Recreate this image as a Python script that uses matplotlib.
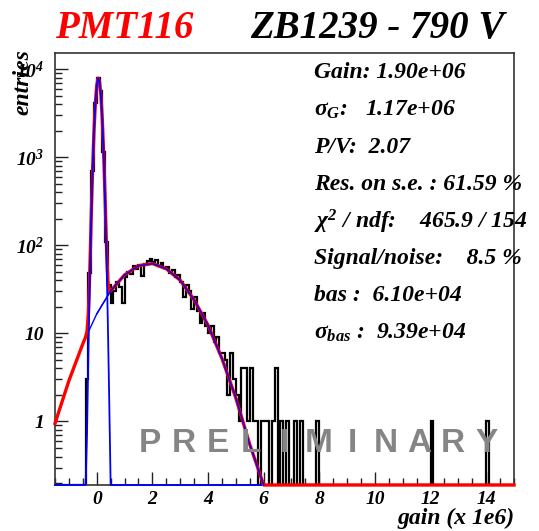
import numpy as np
import matplotlib
matplotlib.use("Agg")
import matplotlib.pyplot as plt
from matplotlib.ticker import FixedLocator, FixedFormatter, LogLocator, MultipleLocator, NullFormatter

plt.rcParams['font.family'] = 'Liberation Serif'
plt.rcParams['font.weight'] = 'bold'
plt.rcParams['font.style'] = 'italic'
plt.rcParams['mathtext.fontset'] = 'custom'
plt.rcParams['mathtext.rm'] = 'Liberation Serif:bold:italic'
plt.rcParams['mathtext.it'] = 'Liberation Serif:bold:italic'
plt.rcParams['mathtext.bf'] = 'Liberation Serif:bold:italic'
plt.rcParams['mathtext.sf'] = 'Liberation Serif'

#### data
x_lo, x_hi = -1.5, 15.0
y_lo, y_hi = 0.19, 1.52e4
bin_w = 0.1

## histogram entries, bins of 0.1 starting at -1.5
counts = [
    0, 0, 0, 0, 0, 0, 0, 0, 0, 0,
    0, 3, 48, 690, 4100, 7900, 5600, 1150, 110, 35,
    22, 30, 38, 34, 22, 44, 50, 47, 58, 54,
    60, 45, 62, 66, 70, 64, 68, 58, 63, 55,
    57, 49, 52, 44, 46, 38, 26, 35, 30, 19,
    26, 18, 13, 17, 12, 10, 12, 8, 9, 6,
    6, 5, 2, 6, 3, 2, 1, 4, 4, 1,
    4, 1, 1, 0, 1, 1, 1, 0, 1, 4,
    0, 1, 0, 1, 0, 0, 1, 0, 1, 0,
    0, 0, 0, 0, 1, 0, 0, 0, 0, 0,
    0, 0, 0, 0, 0, 0, 0, 0, 0, 0,
    0, 0, 0, 0, 0, 0, 0, 0, 0, 0,
    0, 0, 0, 0, 0, 0, 0, 0, 0, 0,
    0, 0, 0, 0, 0, 1, 0, 0, 0, 0,
    0, 0, 0, 0, 0, 0, 0, 0, 0, 0,
    0, 0, 0, 0, 0, 1, 0, 0, 0, 0,
    0, 0, 0, 0, 0,
]

## pedestal component (blue)
ped_x = [-1.5, -0.45, -0.40, -0.35, -0.30, -0.25, -0.20, -0.15, -0.10, -0.05, 0.00,
         0.05, 0.10, 0.15, 0.20, 0.25, 0.30, 0.35, 0.40, 0.45, 0.50, 0.55, 5.9]
ped_y = [0, 0.004, 0.07, 0.7, 6, 39, 186, 690, 1910, 4040, 6480,
         7860, 7230, 5040, 2670, 1070, 325, 75, 13, 1.7, 0.18, 0.013, 0]

## single photo-electron component (blue)
spe_x = [-1.5, -1.0, -0.5, 0.0, 0.5, 1.0, 1.5, 2.0, 2.5, 3.0, 3.5, 4.0, 4.5, 5.0, 5.5, 6.0]
spe_y = [0.91, 2.9, 7.6, 16.6, 30.3, 46, 58.5, 62, 54, 40, 24, 12.4, 5.2, 1.85, 0.55, 0.13]

## total fit (red)
tot_x = [-1.5, -1.0, -0.5, -0.4, -0.35, -0.3, -0.25, -0.2, -0.15, -0.1, -0.05, 0.0,
         0.05, 0.1, 0.15, 0.2, 0.25, 0.3, 0.35, 0.4, 0.45, 0.5, 1.0, 1.5, 2.0,
         2.5, 3.0, 3.5, 4.0, 4.5, 5.0, 5.5, 6.0, 6.5, 15.0]
tot_y = [0.95, 2.9, 7.6, 9.1, 10.5, 16.6, 50, 198, 700, 1920, 4060, 6500,
         7880, 7250, 5060, 2690, 1090, 349, 100, 39.5, 29.6, 30.3, 46, 58.5, 62,
         54, 40, 24, 12.4, 5.2, 1.85, 0.55, 0.13, 0.03, 0]

stats = [
    "Gain: 1.90e+06",
    r"$\mathsf{\sigma}_{G}$:   1.17e+06",
    "P/V:  2.07",
    "Res. on s.e. : 61.59 %",
    r"$\mathsf{\chi}^{2}$ / ndf:    465.9 / 154",
    "Signal/noise:    8.5 %",
    "bas :  6.10e+04",
    r"$\mathsf{\sigma}_{bas}$ :  9.39e+04",
]

xtick_vals = [0, 2, 4, 6, 8, 10, 12, 14]
ytick_vals = [1, 10, 100, 1000, 10000]
ytick_labels = ["1", "10", "$10^{2}$", "$10^{3}$", "$10^{4}$"]

################

W, H = 539, 531
fig = plt.figure(figsize=(W / 100, H / 100), dpi=100)
ax = fig.add_axes([55 / W, 1 - 485 / H, (514 - 55) / W, (485 - 53) / H])
ax.set_yscale('log')
ax.set_xlim(x_lo, x_hi)
ax.set_ylim(y_lo, y_hi)

edges = x_lo + bin_w * np.arange(len(counts) + 1)
ax.stairs(np.maximum(np.array(counts, float), y_lo), edges, color='black', lw=1.6,
          baseline=None, zorder=2)

ax.plot(spe_x, np.maximum(spe_y, y_lo), color='blue', lw=1.0, zorder=3, clip_on=False)
ax.plot(tot_x, np.maximum(tot_y, y_lo), color='red', lw=2.4, zorder=3.5, clip_on=False)
ax.plot(ped_x, np.maximum(ped_y, y_lo), color='blue', lw=1.3, zorder=4, clip_on=False)
# thin blue SPE line shows on top of the red one past the pedestal
ax.plot(spe_x[3:], np.maximum(spe_y[3:], y_lo), color='blue', lw=1.0, zorder=4, clip_on=False)

# ROOT-like frame and ticks
for s in ax.spines.values():
    s.set_color('#333333')
    s.set_linewidth(1.2)
ax.yaxis.set_major_locator(FixedLocator(ytick_vals))
ax.yaxis.set_major_formatter(FixedFormatter(ytick_labels))
ax.yaxis.set_minor_locator(LogLocator(base=10, subs=np.arange(2, 10)))
ax.yaxis.set_minor_formatter(NullFormatter())
ax.xaxis.set_major_locator(FixedLocator(xtick_vals))
ax.xaxis.set_major_formatter(FixedFormatter([str(v) for v in xtick_vals]))
ax.xaxis.set_minor_locator(MultipleLocator(0.5))
ax.tick_params(which='both', direction='in', top=False, right=False, color='#222222', width=1.0)
ax.tick_params(which='major', length=9.5)
ax.tick_params(which='minor', length=5)
ax.tick_params(axis='y', which='major', pad=8, labelsize=14)
ax.tick_params(axis='x', which='major', pad=4, labelsize=14)

# titles
fig.text(55 / W, 1 - 38 / H, "PMT116", color='red', fontsize=28, va='baseline', ha='left')
fig.text(250 / W, 1 - 38 / H, "ZB1239 - 790 V", color='black', fontsize=28, va='baseline', ha='left')

fig.text(23 / W, 1 - 49 / H, "entries", rotation=90, fontsize=17, ha='center', va='top')
fig.text(515 / W, 1 - 524 / H, "gain (x 1e6)", fontsize=17, ha='right', va='baseline')

# fit summary
for i, line in enumerate(stats):
    fig.text(314 / W, 1 - (73 + 37.1 * i) / H, line, fontsize=17, ha='left', va='center', zorder=6)

# watermark
for i, ch in enumerate("PRELIMINARY"):
    fig.text((150 + 33.7 * i) / W, 1 - 443 / H, ch, color='#858585', fontsize=24,
             family='Liberation Sans', style='normal', weight='bold',
             ha='center', va='center', zorder=5)

fig.savefig('out.png', dpi=100)
